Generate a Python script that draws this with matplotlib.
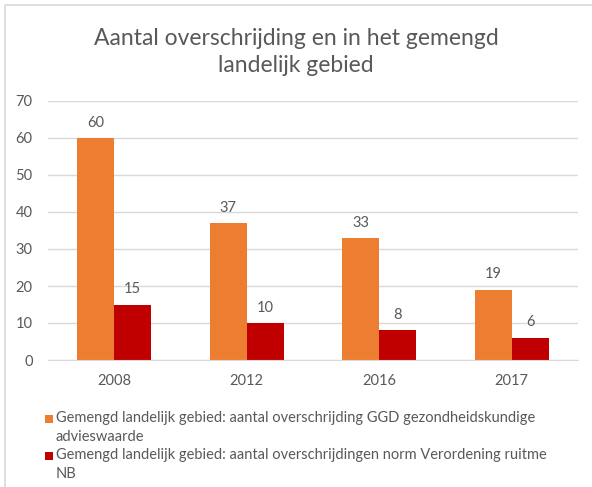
import numpy as np
import matplotlib.pyplot as plt
from matplotlib.patches import Rectangle

years = ["2008", "2012", "2016", "2017"]
ggd_values = [60, 37, 33, 19]
norm_values = [15, 10, 8, 6]
series_names = [
    "Gemengd landelijk gebied: aantal overschrijding GGD gezondheidskundige\nadvieswaarde",
    "Gemengd landelijk gebied: aantal overschrijdingen norm Verordening ruitme\nNB",
]
colors = ["#ED7D31", "#C00000"]
title = "Aantal overschrijding en in het gemengd\nlandelijk gebied"

plt.rcParams['font.family'] = ['Lato', 'DejaVu Sans']
text_col = "#595959"

fig = plt.figure(figsize=(5.92, 4.87), dpi=100)
W, H = 592, 487

# outer chart border (top and left visible)
fig.patches.append(Rectangle((5 / W, -0.1), 1.2, 1 - 5 / H + 0.1, transform=fig.transFigure,
                             fill=False, edgecolor="#D9D9D9", linewidth=1.2))

ax = fig.add_axes([48 / W, 1 - 360 / H, 530 / W, 259 / H])

x = np.arange(len(years))
w = 0.28
b1 = ax.bar(x - w / 2, ggd_values, w, color=colors[0], zorder=2)
b2 = ax.bar(x + w / 2, norm_values, w, color=colors[1], zorder=2)

for bars in (b1, b2):
    for rect in bars:
        ax.annotate(f"{int(rect.get_height())}", (rect.get_x() + rect.get_width() / 2, rect.get_height()),
                    xytext=(0, 6), textcoords="offset points", ha="center", va="bottom",
                    fontsize=10.5, color=text_col)

ax.set_xlim(-0.5, len(years) - 0.5)
ax.set_ylim(0, 70)
ax.set_yticks(range(0, 71, 10))
ax.set_xticks(x)
ax.set_xticklabels(years)
ax.grid(axis="y", color="#D9D9D9", linewidth=1, zorder=0)
for s in ["top", "right", "left"]:
    ax.spines[s].set_visible(False)
ax.spines["bottom"].set_color("#D9D9D9")
ax.tick_params(length=0, labelsize=10.5, colors=text_col)
ax.tick_params(axis="y", pad=11)
ax.tick_params(axis="x", pad=10)

fig.text(0.5, 1 - 52 / H, title, ha="center", va="center", fontsize=16.5,
         color=text_col, linespacing=1.35)

# legend below the chart
for i, (name, c) in enumerate(zip(series_names, colors)):
    y = 1 - (419 + 37 * i) / H
    fig.patches.append(Rectangle((45 / W, y - 4 / H), 8 / W, 8 / H, transform=fig.transFigure,
                                 facecolor=c, edgecolor="none"))
    fig.text(56 / W, y + 8 / H, name, ha="left", va="top", fontsize=10.5,
             color=text_col, linespacing=1.45)

fig.savefig("out.png", dpi=100)
